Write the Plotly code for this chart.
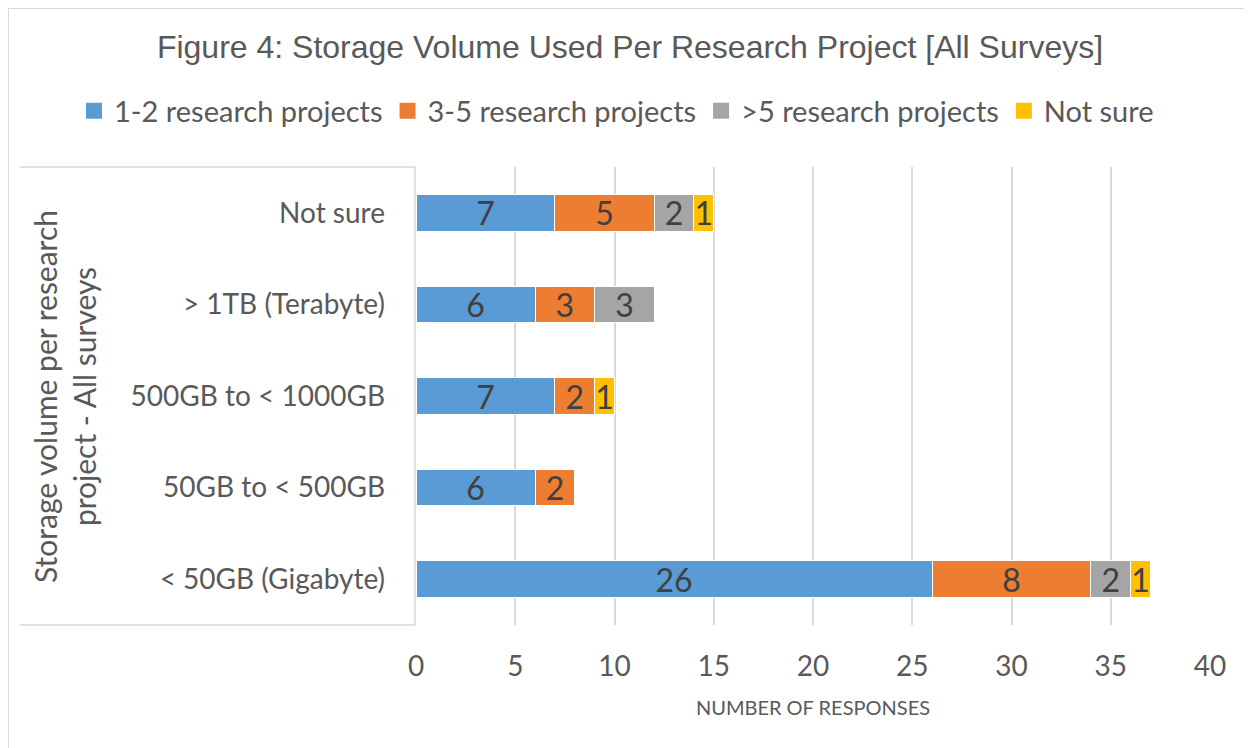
import plotly.graph_objects as go

categories = ["< 50GB (Gigabyte)", "50GB to < 500GB", "500GB to < 1000GB",
              "> 1TB (Terabyte)", "Not sure"]
series_names = ["1-2 research projects", "3-5 research projects",
                ">5 research projects", "Not sure"]
projects_1_2 = [26, 6, 7, 6, 7]
projects_3_5 = [8, 2, 2, 3, 5]
projects_gt5 = [2, None, None, 3, 2]
not_sure = [1, None, 1, None, 1]
x_ticks = [0, 5, 10, 15, 20, 25, 30, 35, 40]

colors = ["#5B9BD5", "#ED7D31", "#A5A5A5", "#FFC000"]
FONT = "Lato, Open Sans, sans-serif"
W, H = 1252, 748
OFF = 8  # page body margin: figure sits 8px in from the screenshot corner
L, R, T, B = 416 - OFF, W - (1210 - OFF), 167 - OFF, H - (625 - OFF)

fig = go.Figure()
for name, vals, col in zip(series_names,
                           [projects_1_2, projects_3_5, projects_gt5, not_sure],
                           colors):
    fig.add_trace(go.Bar(
        y=categories, x=vals, name=name, orientation="h", showlegend=False,
        legendgroup=name,
        marker=dict(color=col, line=dict(color="white", width=1)),
        text=vals, textposition="inside", insidetextanchor="middle", textangle=0,
        textfont=dict(family=FONT, size=32, color="#404040"),
        constraintext="none", cliponaxis=False,
    ))
# legend-only entries, so the swatches can be bigger squares like Excel's
for name, col in zip(series_names, colors):
    fig.add_trace(go.Scatter(
        x=[None], y=[None], mode="markers", name=name, legendgroup=name,
        marker=dict(symbol="square", size=16, color=col),
    ))


def px_x(p):
    return (p - OFF - L) / (W - L - R)


def px_y(p):
    return 1 - (p - OFF - T) / (H - T - B)


grey_line = dict(color="#D9D9D9", width=1.5)
shapes = [
    # outer chart border
    dict(type="rect", xref="paper", yref="paper", x0=px_x(OFF), x1=px_x(OFF + W + 10),
         y0=px_y(OFF + H + 10), y1=px_y(OFF), line=dict(color="#D9D9D9", width=2)),
    # category axis box
    dict(type="line", xref="paper", yref="paper", x0=px_x(20), x1=px_x(415),
         y0=1, y1=1, line=grey_line),
    dict(type="line", xref="paper", yref="paper", x0=px_x(20), x1=px_x(415),
         y0=0, y1=0, line=grey_line),
    dict(type="line", xref="paper", yref="paper", x0=px_x(415), x1=px_x(415),
         y0=0, y1=1, line=grey_line),
]

fig.update_layout(
    width=W, height=H,
    barmode="stack", bargap=0.6,
    plot_bgcolor="white", paper_bgcolor="white",
    margin=dict(l=L, r=R, t=T, b=B),
    font=dict(family=FONT, color="#595959"),
    title=dict(text="Figure 4: Storage Volume Used Per Research Project [All Surveys]",
               x=(630 - OFF) / W, xanchor="center", y=1 - (47 - OFF) / H, yanchor="middle",
               font=dict(family="Liberation Sans, Arial, sans-serif", size=32, color="#595959")),
    # anchored left of the plot area so the legend may use the full width in one row
    legend=dict(orientation="h", xref="paper", yref="paper",
                x=px_x(74), xanchor="left", y=px_y(111), yanchor="middle",
                font=dict(size=29, color="#595959"), traceorder="normal",
                itemsizing="trace"),
    xaxis=dict(range=[0, 40], tickvals=x_ticks, showgrid=True, gridcolor="#D9D9D9",
               gridwidth=1.5, zeroline=False, showline=False,
               tickfont=dict(size=28, color="#595959"), ticklabelstandoff=22,
               title=dict(text="NUMBER OF RESPONSES", font=dict(size=20, color="#595959"),
                          standoff=19)),
    yaxis=dict(showgrid=False, zeroline=False, showline=False, categoryorder="array",
               categoryarray=categories, tickfont=dict(size=28, color="#595959"),
               ticklabelstandoff=30),
    shapes=shapes,
    annotations=[dict(text="Storage volume per research<br>project - All surveys",
                      xref="paper", yref="paper", x=px_x(64), y=px_y(397),
                      xanchor="center", yanchor="middle", textangle=-90,
                      showarrow=False, font=dict(size=30, color="#595959"))],
)

fig.write_html("out.html")
